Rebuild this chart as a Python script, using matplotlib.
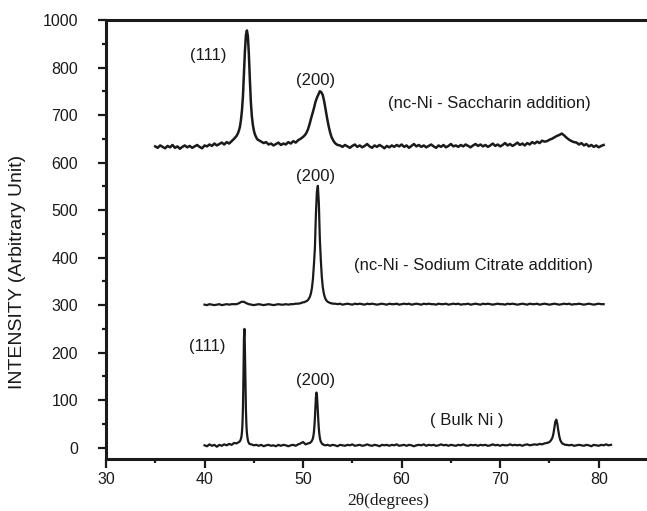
import numpy as np
import matplotlib
matplotlib.use("Agg")
import matplotlib.pyplot as plt
from matplotlib.ticker import MultipleLocator

# intensities read off the scans; each block is sampled on a regular 2theta step
# nc-Ni, saccharin addition
sac_y1 = [634, 631, 636, 633, 630, 635, 632, 637, 631, 634, 629, 633,
          636, 632, 635, 631, 634, 637, 633, 630, 636, 634, 638, 635,
          640, 636, 639, 642, 638, 643, 640, 645, 650, 656]  # 35.00 .. 43.25
sac_y2 = [662, 668, 676, 690, 710, 740, 785, 835, 868, 878, 866,
          828, 775, 728, 698, 680, 668, 660, 655, 651, 648]  # 43.4 .. 45.4
sac_y3 = [647, 644, 641, 643, 638, 640, 636, 639, 642, 637, 640, 638,
          643, 640, 645, 642, 647, 650, 654]  # 45.5 .. 50.0
sac_y4 = [658, 663, 670, 680, 692, 703, 714, 727, 736, 743, 750, 748,
          742, 728, 710, 692, 676, 663, 653, 647, 642, 639, 637]  # 50.2 .. 53.5
sac_y5 = [636, 633, 637, 634, 631, 635, 638, 633, 636, 632, 635, 639,
          634, 631, 636, 633, 637, 634, 630, 635, 632, 636, 633, 637,
          634, 638, 633, 636, 631, 635, 639, 634, 637, 633, 636, 632,
          635, 638, 634, 631, 636, 633, 637, 632, 635, 639, 634, 636,
          633, 637, 634, 638, 635, 632, 636, 639, 635, 638, 634, 637,
          633, 636, 640, 635, 638, 634, 637, 641, 636, 639, 635, 638,
          642, 637, 640, 636, 641, 638, 643, 640, 644, 641, 646, 644,
          645, 648, 650, 653, 656, 658, 661, 657, 652, 648, 645, 643,
          642, 638, 641, 636, 639, 634, 637, 633, 636, 632, 635, 637]  # 53.75 .. 80.5

# nc-Ni, sodium citrate addition
cit_y1 = [301, 300, 302, 301, 300, 301, 302, 300, 301, 302, 301, 302,
          302, 302, 304, 307, 307, 304, 302, 301, 300, 301, 302, 301,
          300, 301, 302, 301, 300, 301, 302, 301, 301, 302, 301, 302,
          302, 303, 303, 304, 306]  # 40.0 .. 50.0
cit_y2 = [306, 307, 308, 309, 311, 314, 318, 325, 336, 355,
          385, 420, 490, 538, 551, 515, 440, 395, 360, 338,
          325, 317, 312, 309, 307, 306, 305, 304, 304, 303]  # 50.1 .. 53.0
cit_y3 = [303, 302, 303, 301, 302, 303, 302, 301, 303, 302, 303,
          302, 301, 303, 302, 303, 302, 301, 302, 303, 302, 301,
          303, 302, 302, 303, 301, 302, 303, 302, 303, 301, 302,
          303, 302, 301, 303, 302, 303, 302, 302, 301, 303, 302,
          302, 303, 301, 302, 303, 302, 303, 301, 302, 302, 303,
          301, 302, 303, 302, 301, 303, 302, 303, 302, 301, 302,
          303, 302, 302, 301, 303, 302, 303, 302, 301, 302, 303,
          302, 301, 303, 302, 302, 303, 301, 302, 303, 302, 301,
          302, 303, 302, 301, 302, 303, 302, 303, 301, 302, 302,
          303, 302, 301, 302, 303, 302, 301, 302, 303, 302, 302]  # 53.25 .. 80.5

# bulk Ni
blk_y1 = [5, 3, 7, 4, 6, 2, 6, 4, 7, 5, 8, 6, 10, 9, 12]  # 40.0 .. 43.5
blk_y2 = [13, 14, 16, 19, 24, 33, 50, 85, 150, 230, 250,
          205, 135, 80, 48, 31, 22, 16, 12, 10, 8]  # 43.55 .. 44.55
blk_y3 = [7, 5, 6, 4, 6, 3, 5, 6, 4, 5, 3, 6,
          4, 6, 5, 3, 5, 6, 4, 7, 9, 12, 7, 9]  # 44.75 .. 50.5
blk_y4 = [10, 11, 12, 13, 15, 17, 20, 25, 33, 45, 62, 84, 105, 116, 112,
          96, 75, 56, 40, 29, 21, 16, 13, 11, 9, 8, 7, 7, 6]  # 50.7 .. 52.1
blk_y5 = [5, 6, 4, 6, 5, 3, 6, 5, 4, 6, 5, 7, 4,
          5, 6, 4, 5, 7, 5, 4, 6, 5, 3, 6, 5, 6,
          4, 6, 5, 7, 4, 5, 6, 4, 6, 5, 3, 5, 6,
          5, 7, 4, 6, 5, 6, 4, 5, 7, 5, 6, 4, 6,
          5, 4, 6, 5, 7, 5, 4, 6, 5, 6, 4, 6, 5,
          6, 4, 5, 7, 5, 6, 4, 6, 5, 5, 7, 5, 6,
          5, 6, 4, 6, 7, 5, 6, 7, 6, 8, 7, 9, 10]  # 52.25 .. 74.75
blk_y6 = [11, 12, 14, 17, 21, 29, 42, 55, 59, 50, 36, 24,
          16, 12, 9, 8, 7, 6]  # 74.9 .. 76.6
blk_y7 = [6, 5, 6, 4, 5, 6, 5, 4, 6, 5, 3, 6, 5, 4, 6, 5, 7, 5, 6]  # 76.75 .. 81.25

ytick_vals = [0, 100, 200, 300, 400, 500, 600, 700, 800, 900]
ytick_text = ["0", "100", "200", "300", "400", "500", "600", "700", "800", "1000"]


def scan(blocks):
    xs, ys = [], []
    for start, step, vals in blocks:
        xs.append(start + step * np.arange(len(vals)))
        ys.append(np.asarray(vals, dtype=float))
    return np.concatenate(xs), np.concatenate(ys)


sac_x, sac_y = scan([(35.0, 0.25, sac_y1), (43.4, 0.1, sac_y2), (45.5, 0.25, sac_y3),
                     (50.2, 0.15, sac_y4), (53.75, 0.25, sac_y5)])
cit_x, cit_y = scan([(40.0, 0.25, cit_y1), (50.1, 0.1, cit_y2), (53.25, 0.25, cit_y3)])
blk_x, blk_y = scan([(40.0, 0.25, blk_y1), (43.55, 0.05, blk_y2), (44.75, 0.25, blk_y3),
                     (50.7, 0.05, blk_y4), (52.25, 0.25, blk_y5), (74.9, 0.1, blk_y6),
                     (76.75, 0.25, blk_y7)])

plt.rcParams["font.family"] = ["Liberation Sans", "DejaVu Sans"]
ink = "#1a1a1a"

fig = plt.figure(figsize=(6.47, 5.11), dpi=100)
ax = fig.add_axes([0.1638, 0.1012, 0.8362, 0.8597])

ax.plot(sac_x, sac_y, color=ink, lw=1.8, solid_joinstyle="round")
ax.plot(cit_x, cit_y, color=ink, lw=1.6, solid_joinstyle="round")
ax.plot(blk_x, blk_y, color=ink, lw=1.6, solid_joinstyle="round")

ax.set_xlim(30, 84.9)
ax.set_ylim(-24.4, 899.5)
ax.xaxis.set_major_locator(MultipleLocator(10))
ax.xaxis.set_minor_locator(MultipleLocator(5))
ax.set_yticks(ytick_vals)
ax.set_yticklabels(ytick_text)
ax.yaxis.set_minor_locator(MultipleLocator(50))

for side in ["left", "bottom", "top"]:
    ax.spines[side].set_linewidth(2.2)
    ax.spines[side].set_color(ink)
ax.spines["right"].set_visible(False)

ax.tick_params(axis="y", which="major", direction="out", length=6, width=1.6,
               pad=14, labelsize=11.5, colors=ink)
ax.tick_params(axis="y", which="minor", direction="out", length=3, width=1.6, colors=ink)
ax.tick_params(axis="x", which="major", direction="out", length=6.5, width=1.6,
               pad=3, labelsize=11.5, colors=ink)
ax.tick_params(axis="x", which="minor", direction="out", length=3, width=1.6, colors=ink)

notes = [
    (40.42, 826, "(111)"),
    (51.25, 773, "(200)"),
    (68.94, 725, "(nc-Ni - Saccharin addition)"),
    (51.25, 570, "(200)"),
    (67.32, 383, "(nc-Ni - Sodium Citrate addition)"),
    (40.24, 212, "(111)"),
    (51.25, 141, "(200)"),
    (66.58, 57, "( Bulk Ni )"),
]
for x, y, s in notes:
    ax.text(x, y, s, ha="center", va="center", fontsize=12, color=ink)

fig.text(18 / 647, 1 - 272 / 511, "INTENSITY (Arbitrary Unit)", rotation=90,
         ha="center", va="center", fontsize=14, color=ink)
fig.text(388 / 647, 1 - 501 / 511, "2θ(degrees)", ha="center", va="center",
         fontsize=12.5, color=ink, family=["Liberation Serif", "DejaVu Serif"])

fig.savefig("out.png", dpi=100)
